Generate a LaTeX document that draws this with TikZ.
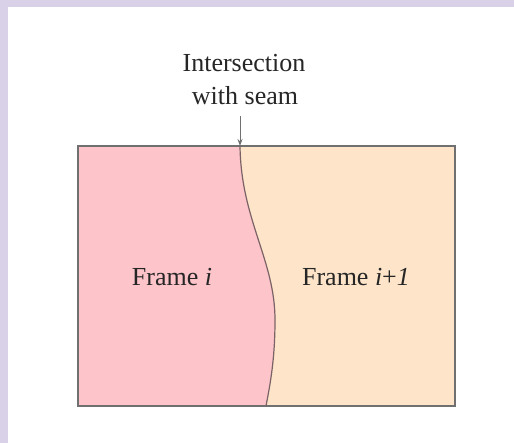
\documentclass[tikz,border=0pt]{standalone}
\usepackage{fontspec}
\setmainfont{Liberation Serif}
\usetikzlibrary{arrows.meta}
\definecolor{lav}{HTML}{D9D1E8}
\definecolor{pinkf}{HTML}{FDC4CA}
\definecolor{peachf}{HTML}{FEE4C8}
\definecolor{edgec}{HTML}{707070}
\definecolor{seamc}{HTML}{7A6266}
\tikzset{
  lbl/.style={font=\fontsize{26}{33}\selectfont, text=black!85, inner sep=0pt, anchor=base},
  frameedge/.style={draw=edgec, line width=1.3pt},
}
\begin{document}
\begin{tikzpicture}[x=1pt,y=-1pt]
\useasboundingbox (0,0) rectangle (514,443);
\fill[white] (0,0) rectangle (514,443);
\fill[lav] (0,0) rectangle (514,7);
\fill[lav] (0,0) rectangle (8,443);
% regions
\def\seam{(240,146) .. controls (241,220) and (275,260) .. (275,320) .. controls (275,360) and (270,385) .. (266,406)}
\fill[pinkf] (78,146) -- \seam -- (78,406) -- cycle;
\fill[peachf] (455,146) -- \seam -- (455,406) -- cycle;
\draw[frameedge] (78,146) rectangle (455,406);
\draw[seamc, line width=1.2pt] \seam;
\coordinate (seamtop) at (240,146);
\coordinate (arrstart) at (240,116);
\draw[edgec, line width=1pt, -{Stealth[length=7pt,width=5pt]}] (arrstart) -- (seamtop);
% labels
\node[lbl] (l1) at (244,72) {Intersection};
\node[lbl] (l2) at (245,105) {with seam};
\node[lbl] (fi) at (172,286) {Frame \textit{i}};
\node[lbl] (fi1) at (356,286) {Frame \textit{i}+\textit{1}};
\end{tikzpicture}
\end{document}
